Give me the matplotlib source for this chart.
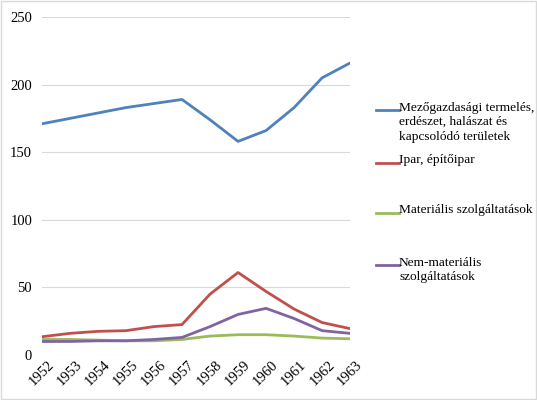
import matplotlib
matplotlib.use("Agg")
import matplotlib.pyplot as plt
from matplotlib.lines import Line2D
from matplotlib.patches import Rectangle

# Data
years = [1952, 1953, 1954, 1955, 1956, 1957, 1958, 1959, 1960, 1961, 1962, 1963]
agri = [171, 175, 179, 183, 186, 189, 174, 158, 166, 183, 205, 216]
industry = [13.5, 16, 17.5, 18, 21, 22.5, 45, 61, 47, 34, 24, 19.5]
material = [11.5, 11.5, 11, 10.5, 10.5, 11.5, 14, 15, 15, 14, 12.5, 12]
nonmaterial = [10, 10, 10.5, 10.5, 11.5, 13, 21, 30, 34.5, 27, 18, 16]

labels = ["Mezőgazdasági termelés,\nerdészet, halászat és\nkapcsolódó területek",
          "Ipar, építőipar",
          "Materiális szolgáltatások",
          "Nem-materiális\nszolgáltatások"]
colors = ["#4F81BD", "#C0504D", "#9BBB59", "#8064A2"]
series = [agri, industry, material, nonmaterial]

plt.rcParams['font.family'] = ['Liberation Serif', 'DejaVu Serif']

fig = plt.figure(figsize=(5.37, 4.0), dpi=100)
ax = fig.add_axes([0.078, 0.1125, 0.574, 0.845])

for vals, c in zip(series, colors):
    ax.plot(years, vals, color=c, linewidth=2.0, solid_capstyle="round")

ax.set_xlim(years[0], years[-1])
ax.set_ylim(0, 250)
ax.set_yticks(range(0, 251, 50))
ax.set_xticks(years)
ax.set_xticklabels([str(y) for y in years], rotation=45, fontsize=10.5)
ax.tick_params(axis="y", labelsize=10.5, length=0, pad=7)
ax.tick_params(axis="x", length=0, pad=2)
ax.grid(axis="y", color="#D9D9D9", linewidth=0.8)
ax.set_axisbelow(True)
for s in ax.spines.values():
    s.set_visible(False)

# Legend drawn by hand to keep handles on first text line (Excel style)
leg_y = [110, 163, 213, 265]
for lab, c, yp in zip(labels, colors, leg_y):
    fy = 1 - yp / 400
    fig.add_artist(Line2D([376 / 537, 399 / 537], [fy, fy], color=c, linewidth=2.0,
                          transform=fig.transFigure))
    fig.text(399 / 537, fy + 8.5 / 400, lab, fontsize=9.6, va="top", ha="left",
             linespacing=1.3)

fig.add_artist(Rectangle((0.002, 0.002), 0.996, 0.996, transform=fig.transFigure,
                         fill=False, edgecolor="#D9D9D9", linewidth=1))

fig.savefig("out.png", dpi=100)
